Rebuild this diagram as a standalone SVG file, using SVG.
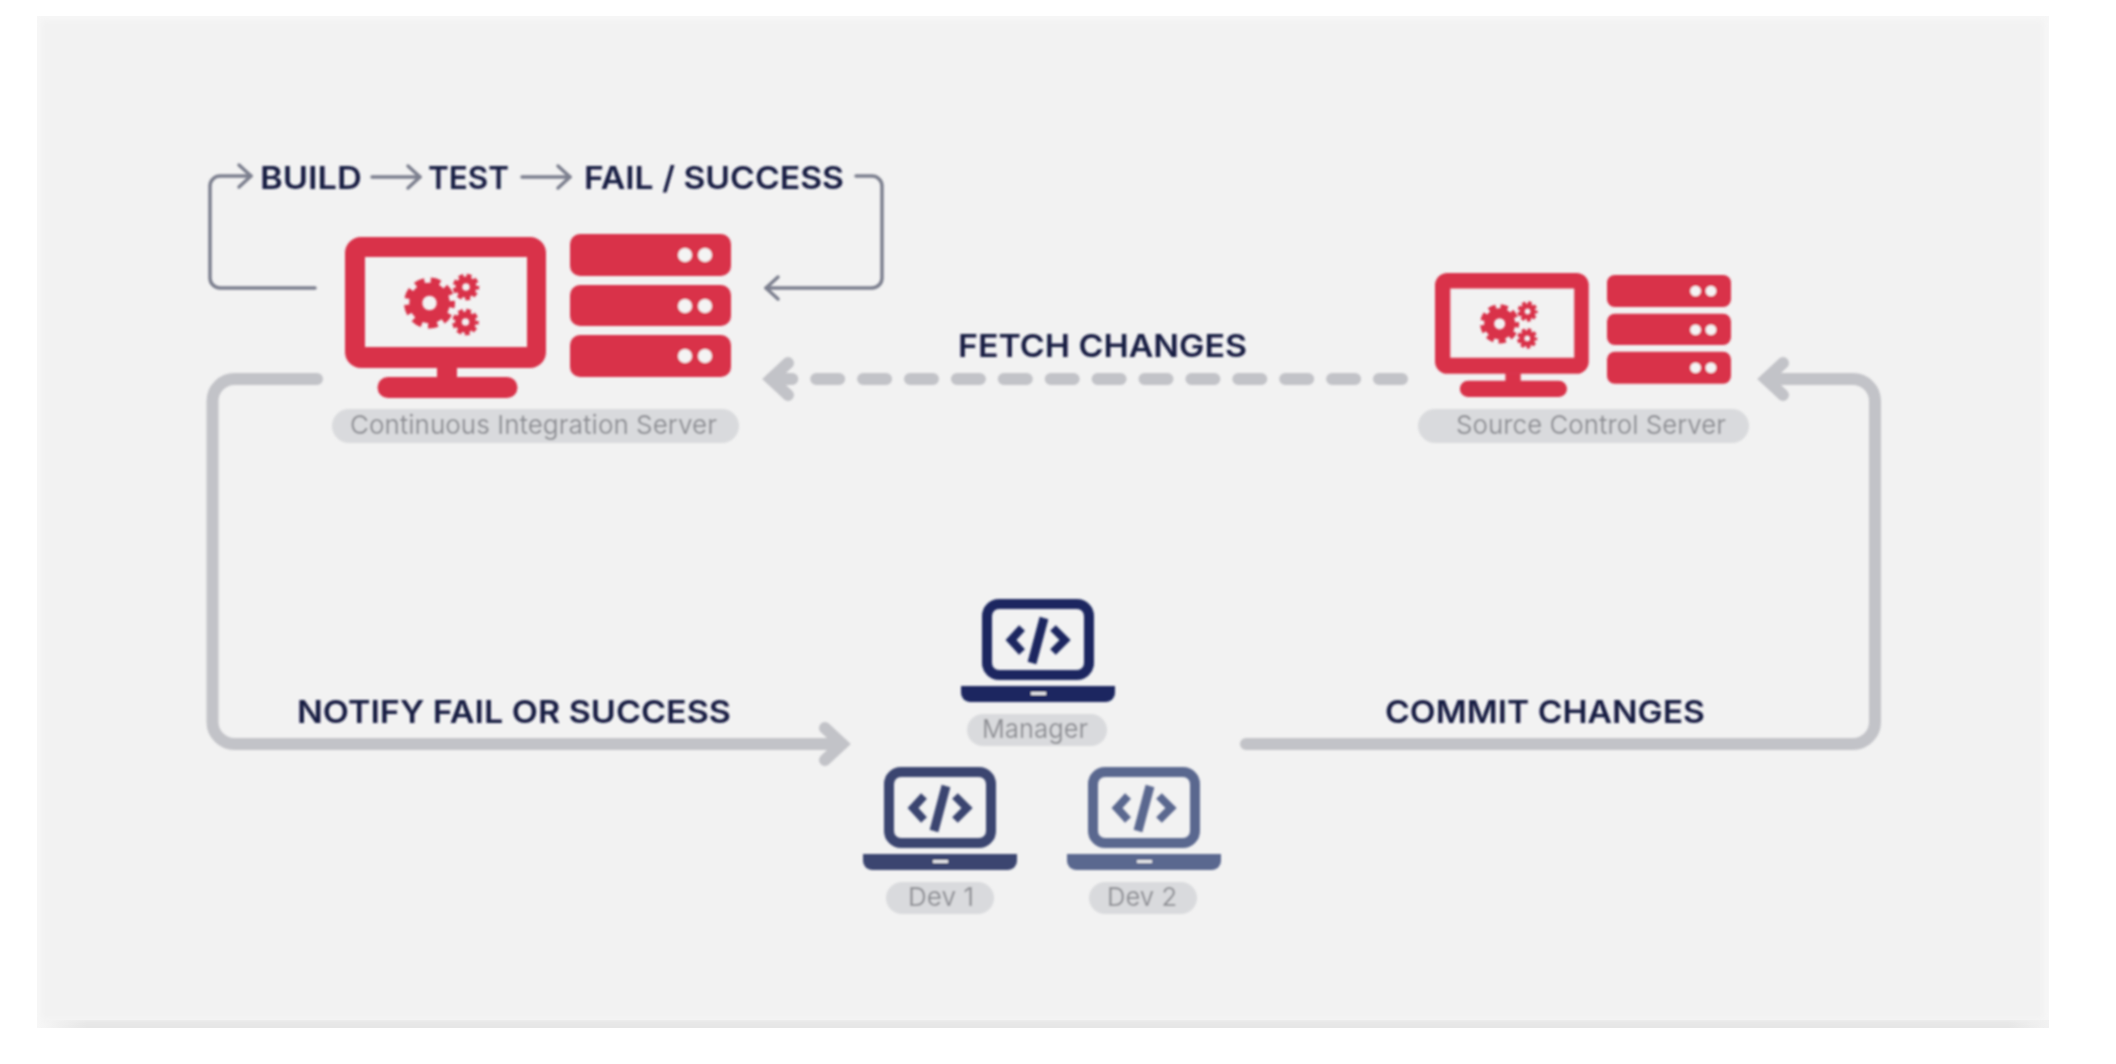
<svg xmlns="http://www.w3.org/2000/svg" width="2116" height="1064" viewBox="0 0 2116 1064">
<style>
text{font-family:Inter,"Liberation Sans",sans-serif;font-variant-ligatures:none}
.h{font-size:31.500px;font-weight:600;fill:#161b42}
.p{font-size:26px;font-weight:400;fill:#8f9095}
.pill{fill:#d9dadd}
.thin{fill:none;stroke:#7c7f8e;stroke-width:3.5;stroke-linecap:round;stroke-linejoin:round}
.thick{fill:none;stroke:#c2c3c8;stroke-width:12;stroke-linecap:round;stroke-linejoin:round}
.red{fill:#d93048}
</style>
<defs>
<filter id="soft" filterUnits="userSpaceOnUse" x="0" y="0" width="2116" height="1064"><feGaussianBlur stdDeviation="0.9"/></filter>
<filter id="edge" filterUnits="userSpaceOnUse" x="0" y="0" width="2116" height="1064"><feGaussianBlur stdDeviation="3"/></filter>
<clipPath id="panel"><rect x="37" y="16" width="2012" height="1012"/></clipPath>
<linearGradient id="band" gradientUnits="userSpaceOnUse" x1="37" y1="0" x2="2049" y2="0">
<stop offset="0" stop-color="#f7f7f7"/><stop offset="0.025" stop-color="#e6e6e6"/><stop offset="0.98" stop-color="#e6e6e6"/><stop offset="1" stop-color="#f2f2f2"/>
</linearGradient>
<marker id="aThin" markerUnits="userSpaceOnUse" orient="auto" overflow="visible" markerWidth="40" markerHeight="40" refX="0" refY="0" viewBox="-20 -20 40 40"><path d="M-12,-11 L0,0 L-12,11" fill="none" stroke="#7c7f8e" stroke-width="3.5" stroke-linecap="round" stroke-linejoin="round"/></marker>
<marker id="aThick" markerUnits="userSpaceOnUse" orient="auto" overflow="visible" markerWidth="80" markerHeight="80" refX="0" refY="0" viewBox="-40 -40 80 80"><path d="M-17,-16 L0,0 L-17,16" fill="none" stroke="#c2c3c8" stroke-width="12" stroke-linecap="round" stroke-linejoin="miter"/></marker>
<g id="gear">
<circle r="0.53" fill="none" stroke="#d93048" stroke-width="0.5"/>
<circle r="0.85" fill="none" stroke="#d93048" stroke-width="0.26" pathLength="80" stroke-dasharray="6 4" stroke-dashoffset="3"/>
</g>
<g id="monitor">
<path class="red" fill-rule="evenodd" d="M16,0H185a16,16 0 0 1 16,16V115a16,16 0 0 1 -16,16H16a16,16 0 0 1 -16,-16V16a16,16 0 0 1 16,-16ZM20,20V110H182V20Z"/>
<rect class="red" x="92" y="130" width="20" height="12"/>
<rect class="red" x="32.500" y="140" width="140" height="21" rx="10.500"/>
<use href="#gear" transform="translate(84.500 66) scale(26)"/>
<use href="#gear" transform="translate(121 50) scale(13.500)"/>
<use href="#gear" transform="translate(120.500 85) scale(13.500)"/>
</g>
<g id="rack">
<rect class="red" width="161" height="42" rx="10"/>
<rect class="red" y="51" width="161" height="41" rx="10"/>
<rect class="red" y="101" width="161" height="42" rx="10"/>
<g fill="#f4f4f4">
<circle cx="115" cy="21" r="7"/><circle cx="135" cy="21" r="7"/>
<circle cx="115" cy="72" r="7"/><circle cx="135" cy="72" r="7"/>
<circle cx="115" cy="122" r="7"/><circle cx="135" cy="122" r="7"/>
</g>
</g>
<g id="laptop">
<rect x="5" y="5" width="102" height="71" rx="12" fill="none" stroke="currentColor" stroke-width="10"/>
<path fill="currentColor" d="M-21,87H133V94a9,9 0 0 1 -9,9H-12a9,9 0 0 1 -9,-9Z"/>
<rect x="49" y="93" width="15" height="3" fill="#e8e8ea"/>
<path fill="none" stroke="currentColor" stroke-width="8" stroke-linejoin="miter" d="M40,29L29,41L40,53M71,29L83,41L71,53"/>
<path fill="none" stroke="currentColor" stroke-width="9" d="M62,19L50,64"/>
</g>
</defs>
<rect width="2116" height="1064" fill="#ffffff"/>
<g id="background" clip-path="url(#panel)">
<rect x="37" y="16" width="2012" height="1012" fill="#f7f7f7"/>
<rect x="37" y="1020" width="2012" height="8" fill="url(#band)"/>
<rect x="41" y="20" width="2003" height="1000" fill="#f2f2f2" filter="url(#edge)"/>
</g>
<g id="art" filter="url(#soft)">
<g id="connectors">
<path class="thin" marker-end="url(#aThin)" d="M315,288H220a10,10 0 0 1 -10,-10V186a10,10 0 0 1 10,-10H251"/>
<path class="thin" marker-end="url(#aThin)" d="M372,177H420"/>
<path class="thin" marker-end="url(#aThin)" d="M522,177H570"/>
<path class="thin" marker-end="url(#aThin)" d="M856,176H872a10,10 0 0 1 10,10V278a10,10 0 0 1 -10,10H766"/>
<path class="thick" marker-end="url(#aThick)" stroke-dasharray="23 23.900" d="M1402,379H771"/>
<path class="thick" marker-end="url(#aThick)" d="M317,379H234.500a22,22 0 0 0 -22,22V722a22,22 0 0 0 22,22H842"/>
<path class="thick" marker-end="url(#aThick)" d="M1246,744H1853a22,22 0 0 0 22,-22V401a22,22 0 0 0 -22,-22H1766"/>
</g>
<g id="flow-labels">
<text class="h" x="260" y="189" textLength="102" lengthAdjust="spacingAndGlyphs">BUILD</text>
<text class="h" x="428" y="189" textLength="81" lengthAdjust="spacingAndGlyphs">TEST</text>
<text class="h" x="584" y="189" textLength="260" lengthAdjust="spacingAndGlyphs">FAIL / SUCCESS</text>
<text class="h" x="958" y="357" textLength="289" lengthAdjust="spacingAndGlyphs">FETCH CHANGES</text>
<text class="h" x="297" y="723" textLength="434" lengthAdjust="spacingAndGlyphs">NOTIFY FAIL OR SUCCESS</text>
<text class="h" x="1385" y="723" textLength="320" lengthAdjust="spacingAndGlyphs">COMMIT CHANGES</text>
</g>
<g id="ci-server">
<use href="#monitor" x="345" y="237"/>
<use href="#rack" x="570" y="234"/>
<rect class="pill" x="332" y="409" width="407" height="34" rx="17"/>
<text class="p" x="350" y="434" textLength="367" lengthAdjust="spacingAndGlyphs">Continuous Integration Server</text>
</g>
<g id="source-server">
<use href="#monitor" transform="translate(1435 273) scale(0.765 0.77)"/>
<use href="#rack" transform="translate(1607 275) scale(0.77 0.76)"/>
<rect class="pill" x="1418" y="409" width="331" height="34" rx="17"/>
<text class="p" x="1456" y="434" textLength="270" lengthAdjust="spacingAndGlyphs">Source Control Server</text>
</g>
<g id="manager" color="#1c2860">
<use href="#laptop" x="982" y="599"/>
<rect class="pill" x="967" y="714" width="140" height="32" rx="16"/>
<text class="p" x="982" y="738" textLength="106" lengthAdjust="spacingAndGlyphs">Manager</text>
</g>
<g id="dev1" color="#3a4570">
<use href="#laptop" x="884" y="767"/>
<rect class="pill" x="886" y="882" width="108" height="32" rx="16"/>
<text class="p" x="908" y="906" textLength="66" lengthAdjust="spacingAndGlyphs">Dev 1</text>
</g>
<g id="dev2" color="#5a678f">
<use href="#laptop" x="1088" y="767"/>
<rect class="pill" x="1089" y="882" width="108" height="32" rx="16"/>
<text class="p" x="1107" y="906" textLength="70" lengthAdjust="spacingAndGlyphs">Dev 2</text>
</g>
</g>
</svg>
